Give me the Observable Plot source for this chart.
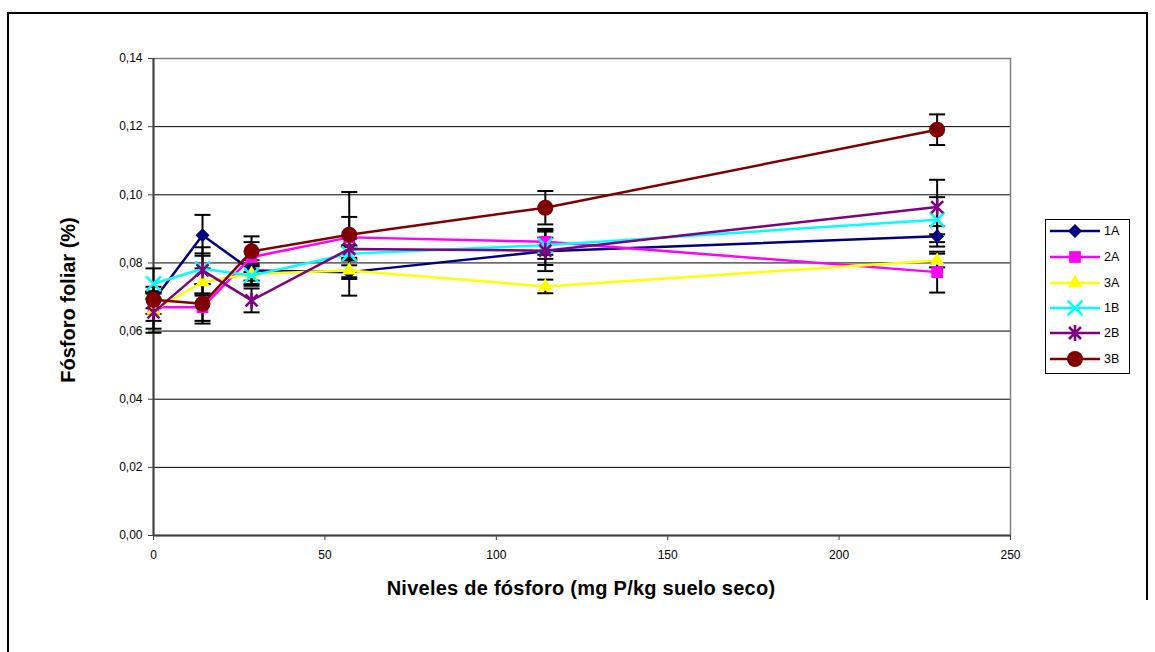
<!DOCTYPE html>
<html>
<head>
<meta charset="utf-8">
<script src="https://cdn.jsdelivr.net/npm/d3@7"></script>
<script src="https://cdn.jsdelivr.net/npm/@observablehq/plot@0.6"></script>
<style>
  html, body { margin: 0; padding: 0; background: #fff; }
  body { width: 1155px; height: 652px; position: relative; overflow: hidden; font-family: "Liberation Sans", Arial, sans-serif; }
  #frameTop { position: absolute; left: 7px; top: 12px; width: 1141px; height: 2px; background: #000; }
  #frameLeft { position: absolute; left: 7px; top: 12px; width: 2px; height: 660px; background: #000; }
  #frameRight { position: absolute; left: 1146px; top: 12px; width: 2px; height: 588px; background: #000; }
  #chart { position: absolute; left: 0; top: 0; }
  .ytitle { position: absolute; left: 68px; top: 300px; transform: translate(-50%, -50%) rotate(-90deg); font-weight: bold; font-size: 20px; white-space: nowrap; }
  .xtitle { position: absolute; left: 581px; top: 588px; transform: translate(-50%, -50%); font-weight: bold; font-size: 20px; letter-spacing: 0.25px; white-space: nowrap; }
  #legend { position: absolute; left: 0; top: 0; }
</style>
</head>
<body>
<div id="frameTop"></div>
<div id="frameLeft"></div>
<div id="frameRight"></div>
<div id="chart"></div>
<div class="ytitle">Fósforo foliar (%)</div>
<div class="xtitle">Niveles de fósforo (mg P/kg suelo seco)</div>
<svg id="legend" width="1155" height="652"></svg>
<script>
// ---- data ----
const xLevels = [0, 14.3, 28.6, 57.1, 114.3, 228.6];
const seriesNames = ["1A", "2A", "3A", "1B", "2B", "3B"];
const seriesColors = ["#000080", "#FF00FF", "#FFFF00", "#00FFFF", "#800080", "#800000"];
const v1A = [0.0690, 0.0881, 0.0778, 0.0773, 0.0834, 0.0878];
const v2A = [0.0670, 0.0670, 0.0817, 0.0875, 0.0862, 0.0773];
const v3A = [0.0660, 0.0744, 0.0768, 0.0778, 0.0731, 0.0807];
const v1B = [0.0739, 0.0783, 0.0763, 0.0827, 0.0852, 0.0927];
const v2B = [0.0655, 0.0778, 0.0690, 0.0841, 0.0836, 0.0964];
const v3B = [0.0692, 0.0680, 0.0834, 0.0883, 0.0962, 0.1191];
const e1A = [0.0040, 0.0060, 0.0030, 0.0020, 0.0040, 0.0030];
const e2A = [0.0040, 0.0040, 0.0044, 0.0060, 0.0038, 0.0060];
const e3A = [0.0053, 0.0040, 0.0030, 0.0074, 0.0020, 0.0020];
const e1B = [0.0045, 0.0045, 0.0030, 0.0020, 0.0040, 0.0066];
const e2B = [0.0060, 0.0068, 0.0035, 0.0030, 0.0060, 0.0080];
const e3B = [0.0025, 0.0058, 0.0044, 0.0125, 0.0049, 0.0045];
const yTicks = [0, 0.02, 0.04, 0.06, 0.08, 0.10, 0.12, 0.14];
const xTicks = [0, 50, 100, 150, 200, 250];

const values = [v1A, v2A, v3A, v1B, v2B, v3B];
const errors = [e1A, e2A, e3A, e1B, e2B, e3B];

// ---- custom symbols ----
const diamondSym = { draw(ctx, size) { const r = Math.sqrt(size / Math.PI); ctx.moveTo(0, -r); ctx.lineTo(r, 0); ctx.lineTo(0, r); ctx.lineTo(-r, 0); ctx.closePath(); } };
const capSym = { draw(ctx, size) { const r = Math.sqrt(size / Math.PI); ctx.moveTo(-r, 0); ctx.lineTo(r, 0); } };
const starSym = { draw(ctx, size) { const r = Math.sqrt(size / Math.PI); const d = r * 0.75; ctx.moveTo(-d, -d); ctx.lineTo(d, d); ctx.moveTo(d, -d); ctx.lineTo(-d, d); ctx.moveTo(0, -r); ctx.lineTo(0, r); } };
const symbols = [diamondSym, "square", "triangle", "times", starSym, "circle"];
const symR = [7, 6.6, 5.4, 6.8, 8, 8];
const filled = [true, true, true, false, false, true];

const rows = [];
seriesNames.forEach((s, i) => xLevels.forEach((x, j) => rows.push({ s, i, x, y: values[i][j], e: errors[i][j] })));

const fmt = d => d.toFixed(2).replace(".", ",");

const marks = [
  Plot.ruleY(yTicks.filter(t => t > 0 && t < 0.14), { stroke: "#000", strokeWidth: 1 }),
  Plot.frame({ stroke: "#808080", strokeWidth: 1.5 }),
  Plot.ruleX([0], { stroke: "#404040", strokeWidth: 2 }),
  Plot.ruleY([0], { stroke: "#404040", strokeWidth: 2 }),
  Plot.axisY({ ticks: yTicks, tickFormat: fmt, tickSize: 5, tickPadding: 6, label: null, fontSize: 12, stroke: "#404040", style: { letterSpacing: "1.2px" } }),
  Plot.axisX({ ticks: xTicks, tickFormat: d => String(d), tickSize: 5, tickPadding: 10, label: null, fontSize: 12, stroke: "#404040" }),
  Plot.ruleX(rows, { x: "x", y1: d => d.y - d.e, y2: d => d.y + d.e, stroke: "#000", strokeWidth: 2 }),
  Plot.dot(rows, { x: "x", y: d => d.y + d.e, symbol: capSym, r: 8, stroke: "#000", strokeWidth: 2 }),
  Plot.dot(rows, { x: "x", y: d => d.y - d.e, symbol: capSym, r: 8, stroke: "#000", strokeWidth: 2 })
];
seriesNames.forEach((s, i) => {
  const data = rows.filter(d => d.s === s);
  marks.push(Plot.line(data, { x: "x", y: "y", stroke: seriesColors[i], strokeWidth: 2.5 }));
  marks.push(Plot.dot(data, {
    x: "x", y: "y", symbol: symbols[i], r: symR[i],
    fill: filled[i] ? seriesColors[i] : "none",
    stroke: seriesColors[i], strokeWidth: filled[i] ? 0 : 2.5
  }));
});

const chart = Plot.plot({
  width: 1155, height: 652,
  marginLeft: 153, marginRight: 145, marginTop: 58, marginBottom: 117,
  x: { domain: [0, 250] },
  y: { domain: [0, 0.14] },
  style: { fontFamily: "'Liberation Sans', Arial, sans-serif", fontSize: "12px", background: "transparent", color: "#000" },
  marks
});
document.getElementById("chart").appendChild(chart);

// ---- legend ----
const lg = d3.select("#legend");
lg.append("rect").attr("x", 1045.5).attr("y", 219.5).attr("width", 84).attr("height", 154)
  .attr("fill", "#fff").attr("stroke", "#000").attr("stroke-width", 1);
const legendY = [231, 257, 283, 308, 333, 359];
seriesNames.forEach((s, i) => {
  const g = lg.append("g").attr("transform", `translate(0,${legendY[i]})`);
  g.append("line").attr("x1", 1050).attr("x2", 1100).attr("y1", 0).attr("y2", 0)
    .attr("stroke", seriesColors[i]).attr("stroke-width", 2.5);
  const sym = typeof symbols[i] === "string"
    ? { square: d3.symbolSquare, triangle: d3.symbolTriangle, times: d3.symbolTimes, circle: d3.symbolCircle }[symbols[i]]
    : symbols[i];
  g.append("path").attr("transform", "translate(1075,0)")
    .attr("d", d3.symbol(sym, Math.PI * symR[i] * symR[i])())
    .attr("fill", filled[i] ? seriesColors[i] : "none")
    .attr("stroke", filled[i] ? "none" : seriesColors[i])
    .attr("stroke-width", 2.5);
  g.append("text").attr("x", 1104).attr("y", 0).attr("dy", "0.35em")
    .attr("font-family", "'Liberation Sans', Arial, sans-serif").attr("font-size", 12.5).text(s);
});
</script>
</body>
</html>
